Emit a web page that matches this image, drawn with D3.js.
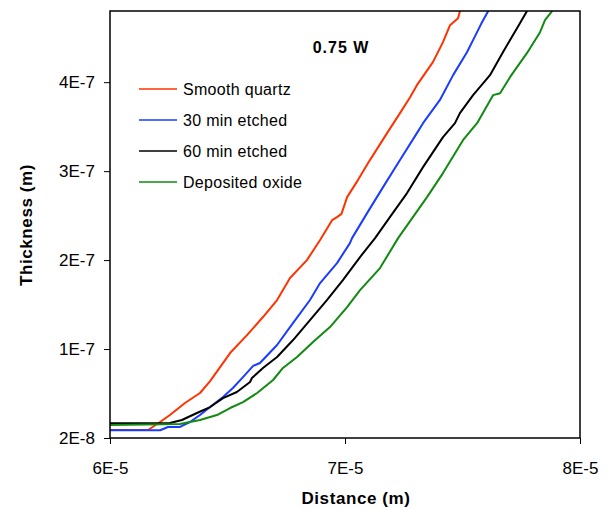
<!DOCTYPE html>
<html>
<head>
<meta charset="utf-8">
<script src="https://cdn.jsdelivr.net/npm/d3@7"></script>
<style>
  body { margin: 0; background: #fff; }
  text { font-family: "Liberation Sans", Arial, sans-serif; fill: #000; }
</style>
</head>
<body>
<div id="chart"></div>
<script>
// Series names and colours
const seriesNames = ['Smooth quartz', '30 min etched', '60 min etched', 'Deposited oxide'];
const seriesColors = ['#ff3300', '#1a3cff', '#000000', '#108a10'];

// Points: [distance in um, thickness in nm]
const smoothQuartz = [
  [60.00, 29.0], [61.62, 29.0], [62.13, 38.0], [62.55, 45.8], [63.19, 59.3], [63.83, 70.6],
  [64.26, 84.0], [65.11, 115.5], [65.83, 135.7], [66.51, 156.0], [67.11, 175.1], [67.66, 199.8],
  [68.38, 220.0], [68.94, 242.5], [69.45, 264.9], [69.66, 268.3], [69.85, 272.0], [70.09, 290.8],
  [70.55, 309.9], [71.06, 332.4], [71.79, 362.7], [72.34, 385.2], [72.77, 403.1], [73.06, 416.6],
  [73.74, 442.5], [74.17, 465.0], [74.47, 484.0], [74.81, 491.9], [74.89, 499.8], [75.10, 520.0]
];
const etched30 = [
  [60.00, 28.7], [62.13, 28.7], [62.47, 32.4], [62.98, 32.4], [63.40, 38.0], [63.83, 45.8],
  [64.26, 54.8], [64.81, 66.1], [65.23, 76.2], [65.66, 88.5], [66.09, 101.0], [66.38, 104.3],
  [67.11, 124.5], [67.66, 144.7], [68.51, 175.1], [68.94, 194.2], [69.66, 216.6], [70.21, 239.1],
  [70.30, 244.7], [70.94, 272.8], [71.62, 302.0], [72.34, 332.4], [73.06, 362.7], [73.32, 373.9],
  [74.04, 400.0], [74.60, 427.9], [75.19, 453.7], [75.62, 476.2], [75.83, 487.4], [76.09, 499.8],
  [76.30, 520.0]
];
const etched60 = [
  [60.00, 36.5], [62.55, 36.9], [63.06, 40.2], [63.70, 48.1], [64.26, 54.8], [64.81, 64.9],
  [65.40, 71.7], [65.96, 82.9], [66.04, 87.4], [66.51, 98.7], [67.11, 111.0], [67.79, 130.1],
  [68.51, 152.6], [69.23, 175.1], [69.91, 197.5], [70.64, 223.4], [71.28, 244.7], [71.91, 268.3],
  [72.64, 295.3], [73.32, 324.5], [74.17, 358.2], [74.68, 373.9], [74.89, 385.2], [75.45, 405.4],
  [76.17, 427.9], [76.72, 453.7], [77.32, 480.7], [77.74, 499.8], [77.95, 520.0]
];
const depositedOxide = [
  [60.00, 34.6], [62.98, 35.7], [63.40, 38.0], [63.83, 40.2], [64.55, 45.8], [65.11, 53.7],
  [65.66, 60.4], [66.26, 70.6], [66.94, 85.2], [67.36, 98.7], [67.96, 111.0], [68.64, 127.9],
  [69.36, 144.7], [70.09, 167.2], [70.64, 186.3], [71.49, 211.0], [72.26, 244.7], [72.89, 268.3],
  [73.49, 290.8], [74.17, 317.8], [75.02, 354.8], [75.62, 373.9], [76.30, 405.4], [76.60, 407.6],
  [77.02, 425.6], [77.74, 452.6], [78.30, 476.2], [78.51, 489.7], [78.81, 499.8], [79.05, 520.0]
];
const seriesData = [smoothQuartz, etched30, etched60, depositedOxide];

// Axis ticks
const xTickValues = [6e-5, 7e-5, 8e-5];
const xTickLabels = ['6E-5', '7E-5', '8E-5'];
const yTickValues = [2e-8, 1.2e-7, 2.2e-7, 3.2e-7, 4.2e-7];
const yTickLabels = ['2E-8', '1E-7', '2E-7', '3E-7', '4E-7'];

const width = 616, height = 510;
const margin = { top: 11, right: 36, bottom: 72, left: 110 };
const innerW = width - margin.left - margin.right;
const innerH = height - margin.top - margin.bottom;

const svg = d3.select('#chart').append('svg')
  .attr('width', width)
  .attr('height', height);

const chart = svg.append('g')
  .attr('transform', `translate(${margin.left},${margin.top})`);

const xScale = d3.scaleLinear().domain([6e-5, 8e-5]).range([0, innerW]);
const yScale = d3.scaleLinear().domain([2e-8, 5e-7]).range([innerH, 0]);

svg.append('defs').append('clipPath').attr('id', 'plot-clip')
  .append('rect').attr('width', innerW).attr('height', innerH);

// Curves
const line = d3.line()
  .x(d => xScale(d[0] * 1e-6))
  .y(d => yScale(d[1] * 1e-9));

chart.append('g')
  .attr('clip-path', 'url(#plot-clip)')
  .selectAll('path')
  .data(seriesData)
  .join('path')
  .attr('d', line)
  .attr('fill', 'none')
  .attr('stroke', (d, i) => seriesColors[i])
  .attr('stroke-width', 2)
  .attr('stroke-linejoin', 'round');

// Frame
chart.append('rect')
  .attr('width', innerW)
  .attr('height', innerH)
  .attr('fill', 'none')
  .attr('stroke', '#000')
  .attr('stroke-width', 1.5);

// Axes
const xAxis = d3.axisBottom(xScale)
  .tickValues(xTickValues)
  .tickFormat((d, i) => xTickLabels[i])
  .tickSizeInner(6)
  .tickSizeOuter(0)
  .tickPadding(18);

const yAxis = d3.axisLeft(yScale)
  .tickValues(yTickValues)
  .tickFormat((d, i) => yTickLabels[i])
  .tickSizeInner(6)
  .tickSizeOuter(0)
  .tickPadding(9);

const xAxisG = chart.append('g')
  .attr('transform', `translate(0,${innerH})`)
  .call(xAxis);
const yAxisG = chart.append('g').call(yAxis);

[xAxisG, yAxisG].forEach(g => {
  g.select('.domain').remove();
  g.selectAll('.tick line').attr('stroke', '#000').attr('stroke-width', 1);
  g.selectAll('.tick text')
    .style('font-family', '"Liberation Sans", Arial, sans-serif')
    .style('font-size', '17px')
    .attr('fill', '#000');
});

// Axis titles
svg.append('text')
  .attr('x', margin.left + innerW / 2 + 11)
  .attr('y', 504)
  .attr('text-anchor', 'middle')
  .style('font-size', '17px')
  .style('font-weight', 'bold')
  .style('letter-spacing', '0.6px')
  .text('Distance (m)');

svg.append('text')
  .attr('transform', 'translate(32,225) rotate(-90)')
  .attr('text-anchor', 'middle')
  .style('font-size', '17px')
  .style('font-weight', 'bold')
  .style('letter-spacing', '0.6px')
  .text('Thickness (m)');

// Chart label
svg.append('text')
  .attr('x', 341)
  .attr('y', 53)
  .attr('text-anchor', 'middle')
  .style('font-size', '16px')
  .style('font-weight', 'bold')
  .style('letter-spacing', '1px')
  .text('0.75 W');

// Legend
const legend = svg.append('g').attr('transform', 'translate(139,89)');
const items = legend.selectAll('g')
  .data(seriesNames)
  .join('g')
  .attr('transform', (d, i) => `translate(0,${i * 31})`);

items.append('line')
  .attr('x1', 0).attr('x2', 38)
  .attr('stroke', (d, i) => seriesColors[i])
  .attr('stroke-width', 1.5);

items.append('text')
  .attr('x', 44)
  .attr('dy', '0.36em')
  .style('font-size', '16px')
  .style('letter-spacing', '0.3px')
  .text(d => d);
</script>
</body>
</html>
